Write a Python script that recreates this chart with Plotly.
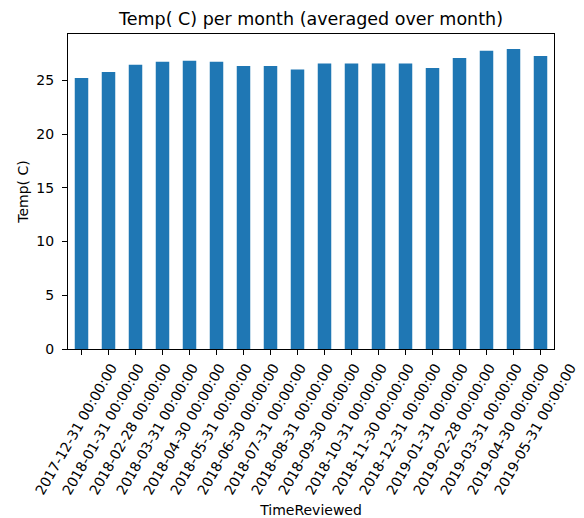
import plotly.graph_objects as go


MONTHS = [
    "2017-12-31 00:00:00", "2018-01-31 00:00:00", "2018-02-28 00:00:00",
    "2018-03-31 00:00:00", "2018-04-30 00:00:00", "2018-05-31 00:00:00",
    "2018-06-30 00:00:00", "2018-07-31 00:00:00", "2018-08-31 00:00:00",
    "2018-09-30 00:00:00", "2018-10-31 00:00:00", "2018-11-30 00:00:00",
    "2018-12-31 00:00:00", "2019-01-31 00:00:00", "2019-02-28 00:00:00",
    "2019-03-31 00:00:00", "2019-04-30 00:00:00", "2019-05-31 00:00:00",
]
TEMPS = [
    25.22, 25.78, 26.46, 26.74, 26.83, 26.74, 26.34, 26.34, 26.02,
    26.58, 26.58, 26.58, 26.58, 26.15, 27.08, 27.76, 27.92, 27.27,
]
Y_TICKS = [0, 5, 10, 15, 20, 25]

FONT = "DejaVu Sans"
BAR_COLOR = "#1f77b4"

# the page body keeps its default 8px margin, so the figure is drawn
# 8px smaller and everything inside is placed 8px up/left
W, H = 576, 510

positions = list(range(len(MONTHS)))

fig = go.Figure(
    go.Bar(
        x=positions,
        y=TEMPS,
        width=0.5,
        marker=dict(color=BAR_COLOR, line=dict(width=0)),
    )
)

fig.update_layout(
    width=W,
    height=H,
    margin=dict(l=60, r=30, t=26, b=169, autoexpand=False),
    paper_bgcolor="white",
    plot_bgcolor="white",
    font=dict(family=FONT, size=14, color="black"),
    showlegend=False,
    title=dict(
        text="Temp( C) per month (averaged over month)",
        font=dict(size=17.5),
        xref="paper", x=0.5, xanchor="center",
        y=1 - 11 / H, yanchor="middle",
    ),
)

fig.update_xaxes(
    automargin=False,
    range=[-0.5, len(MONTHS) - 0.5],
    tickmode="array",
    tickvals=positions,
    ticktext=MONTHS,
    tickangle=-60,
    ticklabelshift=30,
    ticklabelstandoff=-1,
    ticklabeloverflow="allow",
    ticks="outside",
    ticklen=5,
    tickcolor="black",
    showline=True,
    linecolor="black",
    linewidth=1,
    mirror=True,
    showgrid=False,
    zeroline=False,
    title=dict(text="TimeReviewed", font=dict(size=14), standoff=8),
)

fig.update_yaxes(
    automargin=False,
    range=[0, max(TEMPS) * 1.05],
    tickmode="array",
    tickvals=Y_TICKS,
    ticklabelstandoff=5,
    ticks="outside",
    ticklen=5,
    tickcolor="black",
    showline=True,
    linecolor="black",
    linewidth=1,
    mirror=True,
    showgrid=False,
    zeroline=False,
    title=dict(text="Temp( C)", font=dict(size=14), standoff=4),
)

fig.write_html("out.html")
